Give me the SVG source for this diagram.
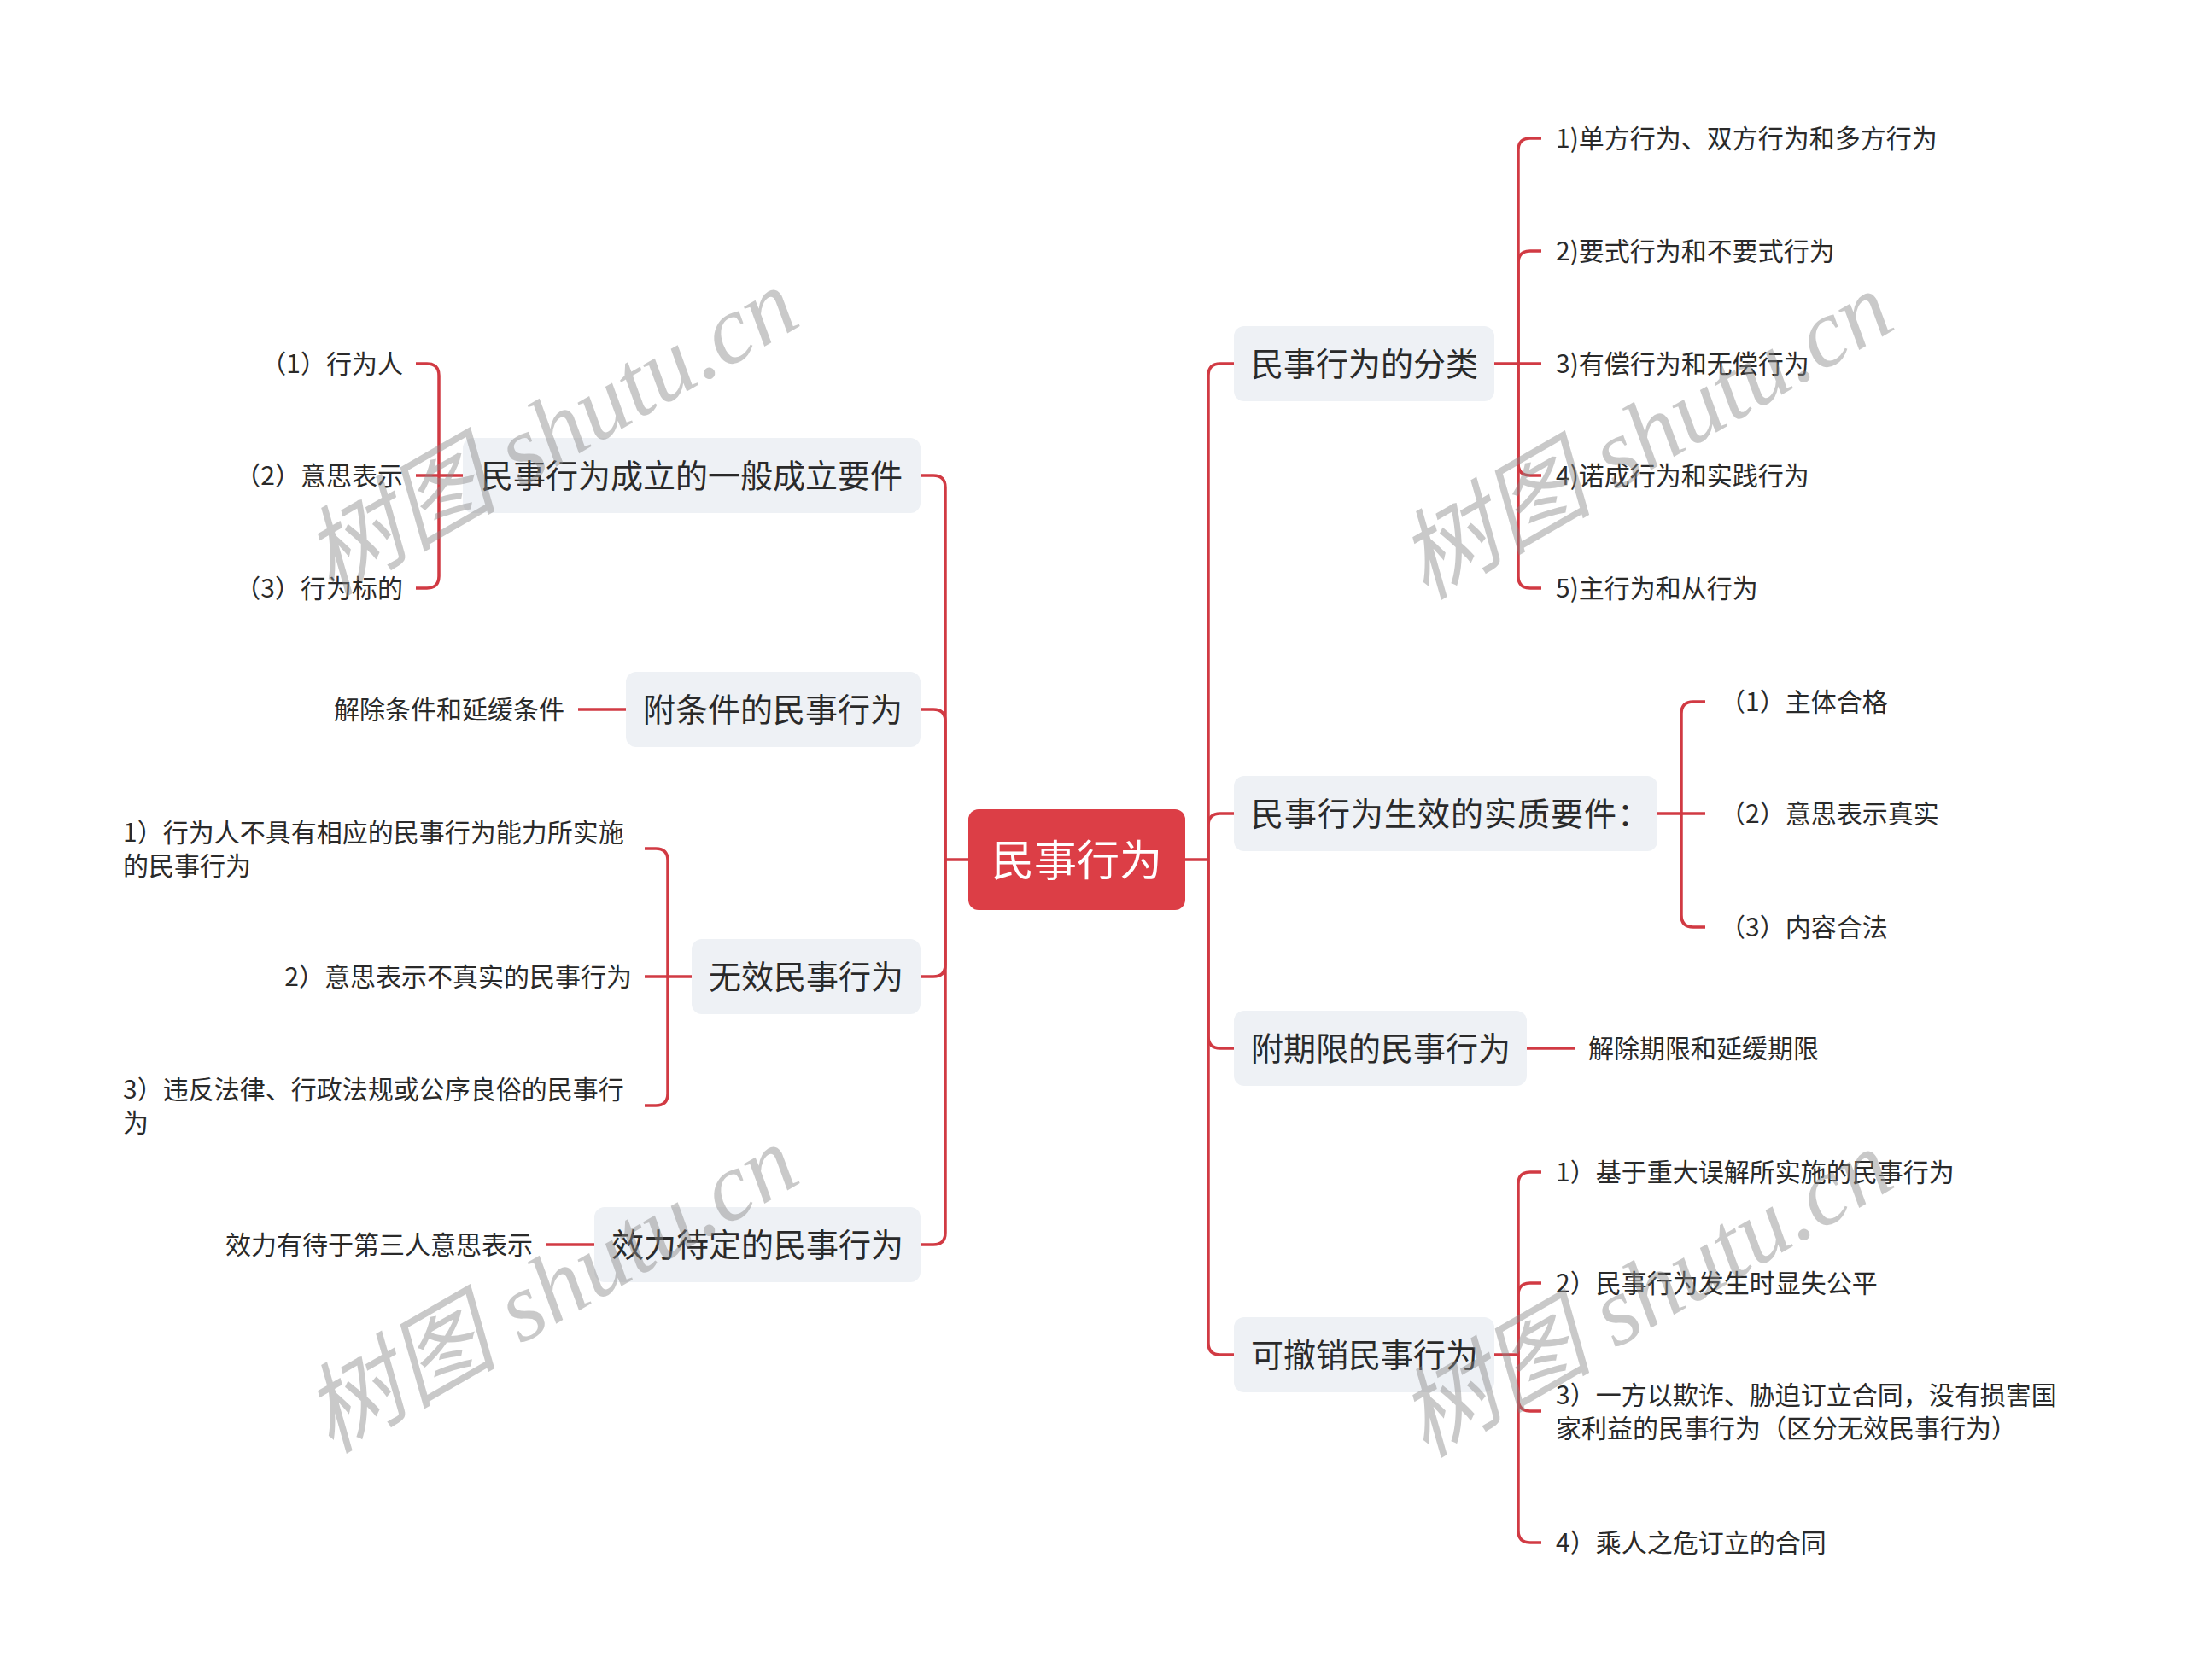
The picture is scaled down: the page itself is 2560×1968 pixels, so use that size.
<svg xmlns="http://www.w3.org/2000/svg" width="2560" height="1968" viewBox="0 0 2560 1968">
<style>
.conn{fill:none;stroke:#d13a43;stroke-width:3.5;stroke-linecap:butt}
.box{fill:#eef1f5}
.root{fill:#dc3e46}
.t{font-family:"Noto Sans CJK SC","Microsoft YaHei",sans-serif;dominant-baseline:central;fill:#2a2a2a}
.main{font-size:38px}
.rt{font-size:50px;fill:#ffffff}
.leaf{font-size:30px}
.end{text-anchor:end}
.wm{font-family:"Liberation Serif","Noto Sans CJK SC",serif;font-style:italic;font-size:114px;fill:#888;fill-opacity:.45;text-anchor:middle;dominant-baseline:central}
</style>
<rect width="2560" height="1968" fill="#ffffff"/>
<g id="connectors">
<path class="conn" d="M1388 1007H1415"/>
<path class="conn" d="M1415 1007V440Q1415 426 1429 426H1445"/>
<path class="conn" d="M1415 1007V967Q1415 953 1429 953H1445"/>
<path class="conn" d="M1415 1007V1214Q1415 1228 1429 1228H1445"/>
<path class="conn" d="M1415 1007V1573Q1415 1587 1429 1587H1445"/>
<path class="conn" d="M1135 1007H1107"/>
<path class="conn" d="M1107 1007V571Q1107 557 1093 557H1078"/>
<path class="conn" d="M1107 1007V845Q1107 831 1093 831H1078"/>
<path class="conn" d="M1107 1007V1130Q1107 1144 1093 1144H1078"/>
<path class="conn" d="M1107 1007V1444Q1107 1458 1093 1458H1078"/>
<path class="conn" d="M1750 426H1778"/>
<path class="conn" d="M1778 426V176Q1778 162 1792 162H1805"/>
<path class="conn" d="M1778 426V308Q1778 294 1792 294H1805"/>
<path class="conn" d="M1778 426H1805"/>
<path class="conn" d="M1778 426V543Q1778 557 1792 557H1805"/>
<path class="conn" d="M1778 426V675Q1778 689 1792 689H1805"/>
<path class="conn" d="M1941 953H1969"/>
<path class="conn" d="M1969 953V836Q1969 822 1983 822H1997"/>
<path class="conn" d="M1969 953H1997"/>
<path class="conn" d="M1969 953V1072Q1969 1086 1983 1086H1997"/>
<path class="conn" d="M1788 1228H1845"/>
<path class="conn" d="M1750 1587H1778"/>
<path class="conn" d="M1778 1587V1387Q1778 1373 1792 1373H1805"/>
<path class="conn" d="M1778 1587V1517Q1778 1503 1792 1503H1805"/>
<path class="conn" d="M1778 1587V1639Q1778 1653 1792 1653H1805"/>
<path class="conn" d="M1778 1587V1793Q1778 1807 1792 1807H1805"/>
<path class="conn" d="M542 557H514"/>
<path class="conn" d="M514 557V440Q514 426 500 426H487"/>
<path class="conn" d="M514 557H487"/>
<path class="conn" d="M514 557V675Q514 689 500 689H487"/>
<path class="conn" d="M733 831H677"/>
<path class="conn" d="M810 1144H782"/>
<path class="conn" d="M782 1144V1008Q782 994 768 994H755"/>
<path class="conn" d="M782 1144H755"/>
<path class="conn" d="M782 1144V1281Q782 1295 768 1295H755"/>
<path class="conn" d="M696 1458H640"/>
</g>
<g id="root"><rect class="root" x="1134" y="948" width="254" height="118" rx="12"/><text class="t rt" x="1261" y="1004" text-anchor="middle">民事行为</text></g>
<g id="n-fenlei"><rect class="box" x="1445" y="382" width="305" height="88" rx="12"/><text class="t main" x="1465" y="423">民事行为的分类</text></g>
<g id="n-shengxiao"><rect class="box" x="1445" y="909" width="496" height="88" rx="12"/><text class="t main" x="1465" y="950" letter-spacing="1">民事行为生效的实质要件：</text></g>
<g id="n-qixian"><rect class="box" x="1445" y="1184" width="343" height="88" rx="12"/><text class="t main" x="1465" y="1225">附期限的民事行为</text></g>
<g id="n-chexiao"><rect class="box" x="1445" y="1543" width="305" height="88" rx="12"/><text class="t main" x="1465" y="1584">可撤销民事行为</text></g>
<g id="n-chengli"><rect class="box" x="542" y="513" width="536" height="88" rx="12"/><text class="t main" x="563" y="554">民事行为成立的一般成立要件</text></g>
<g id="n-tiaojian"><rect class="box" x="733" y="787" width="345" height="88" rx="12"/><text class="t main" x="753" y="828">附条件的民事行为</text></g>
<g id="n-wuxiao"><rect class="box" x="810" y="1100" width="268" height="88" rx="12"/><text class="t main" x="830" y="1141">无效民事行为</text></g>
<g id="n-daiding"><rect class="box" x="696" y="1414" width="382" height="88" rx="12"/><text class="t main" x="716" y="1455">效力待定的民事行为</text></g>
<g id="l-fenlei-1"><text class="t leaf" x="1822" y="160">1)单方行为、双方行为和多方行为</text></g>
<g id="l-fenlei-2"><text class="t leaf" x="1822" y="292">2)要式行为和不要式行为</text></g>
<g id="l-fenlei-3"><text class="t leaf" x="1822" y="424">3)有偿行为和无偿行为</text></g>
<g id="l-fenlei-4"><text class="t leaf" x="1822" y="555">4)诺成行为和实践行为</text></g>
<g id="l-fenlei-5"><text class="t leaf" x="1822" y="687">5)主行为和从行为</text></g>
<g id="l-sx-1"><text class="t leaf" x="2014" y="820">（1）主体合格</text></g>
<g id="l-sx-2"><text class="t leaf" x="2014" y="951">（2）意思表示真实</text></g>
<g id="l-sx-3"><text class="t leaf" x="2014" y="1084">（3）内容合法</text></g>
<g id="l-qx-1"><text class="t leaf" x="1860" y="1226">解除期限和延缓期限</text></g>
<g id="l-cx-1"><text class="t leaf" x="1822" y="1371">1）基于重大误解所实施的民事行为</text></g>
<g id="l-cx-2"><text class="t leaf" x="1822" y="1501">2）民事行为发生时显失公平</text></g>
<g id="l-cx-3"><text class="t leaf" x="1822" y="1631.5">3）一方以欺诈、胁迫订立合同，没有损害国</text><text class="t leaf" x="1822" y="1670.5">家利益的民事行为（区分无效民事行为）</text></g>
<g id="l-cx-4"><text class="t leaf" x="1822" y="1805">4）乘人之危订立的合同</text></g>
<g id="l-cl-1"><text class="t leaf end" x="472" y="424">（1）行为人</text></g>
<g id="l-cl-2"><text class="t leaf end" x="472" y="555">（2）意思表示</text></g>
<g id="l-cl-3"><text class="t leaf end" x="472" y="687">（3）行为标的</text></g>
<g id="l-tj-1"><text class="t leaf end" x="661" y="829">解除条件和延缓条件</text></g>
<g id="l-wx-1"><text class="t leaf" x="144" y="972.5">1）行为人不具有相应的民事行为能力所实施</text><text class="t leaf" x="144" y="1011.5">的民事行为</text></g>
<g id="l-wx-2"><text class="t leaf end" x="740" y="1142">2）意思表示不真实的民事行为</text></g>
<g id="l-wx-3"><text class="t leaf" x="144" y="1273.5">3）违反法律、行政法规或公序良俗的民事行</text><text class="t leaf" x="144" y="1312.5">为</text></g>
<g id="l-dd-1"><text class="t leaf end" x="624" y="1456">效力有待于第三人意思表示</text></g>
<g id="watermarks">
<text class="wm" transform="translate(645 506) rotate(-30)">树图 shutu.cn</text>
<text class="wm" transform="translate(1927 510) rotate(-30)">树图 shutu.cn</text>
<text class="wm" transform="translate(645 1510) rotate(-30)">树图 shutu.cn</text>
<text class="wm" transform="translate(1927 1515) rotate(-30)">树图 shutu.cn</text>
</g>
</svg>
